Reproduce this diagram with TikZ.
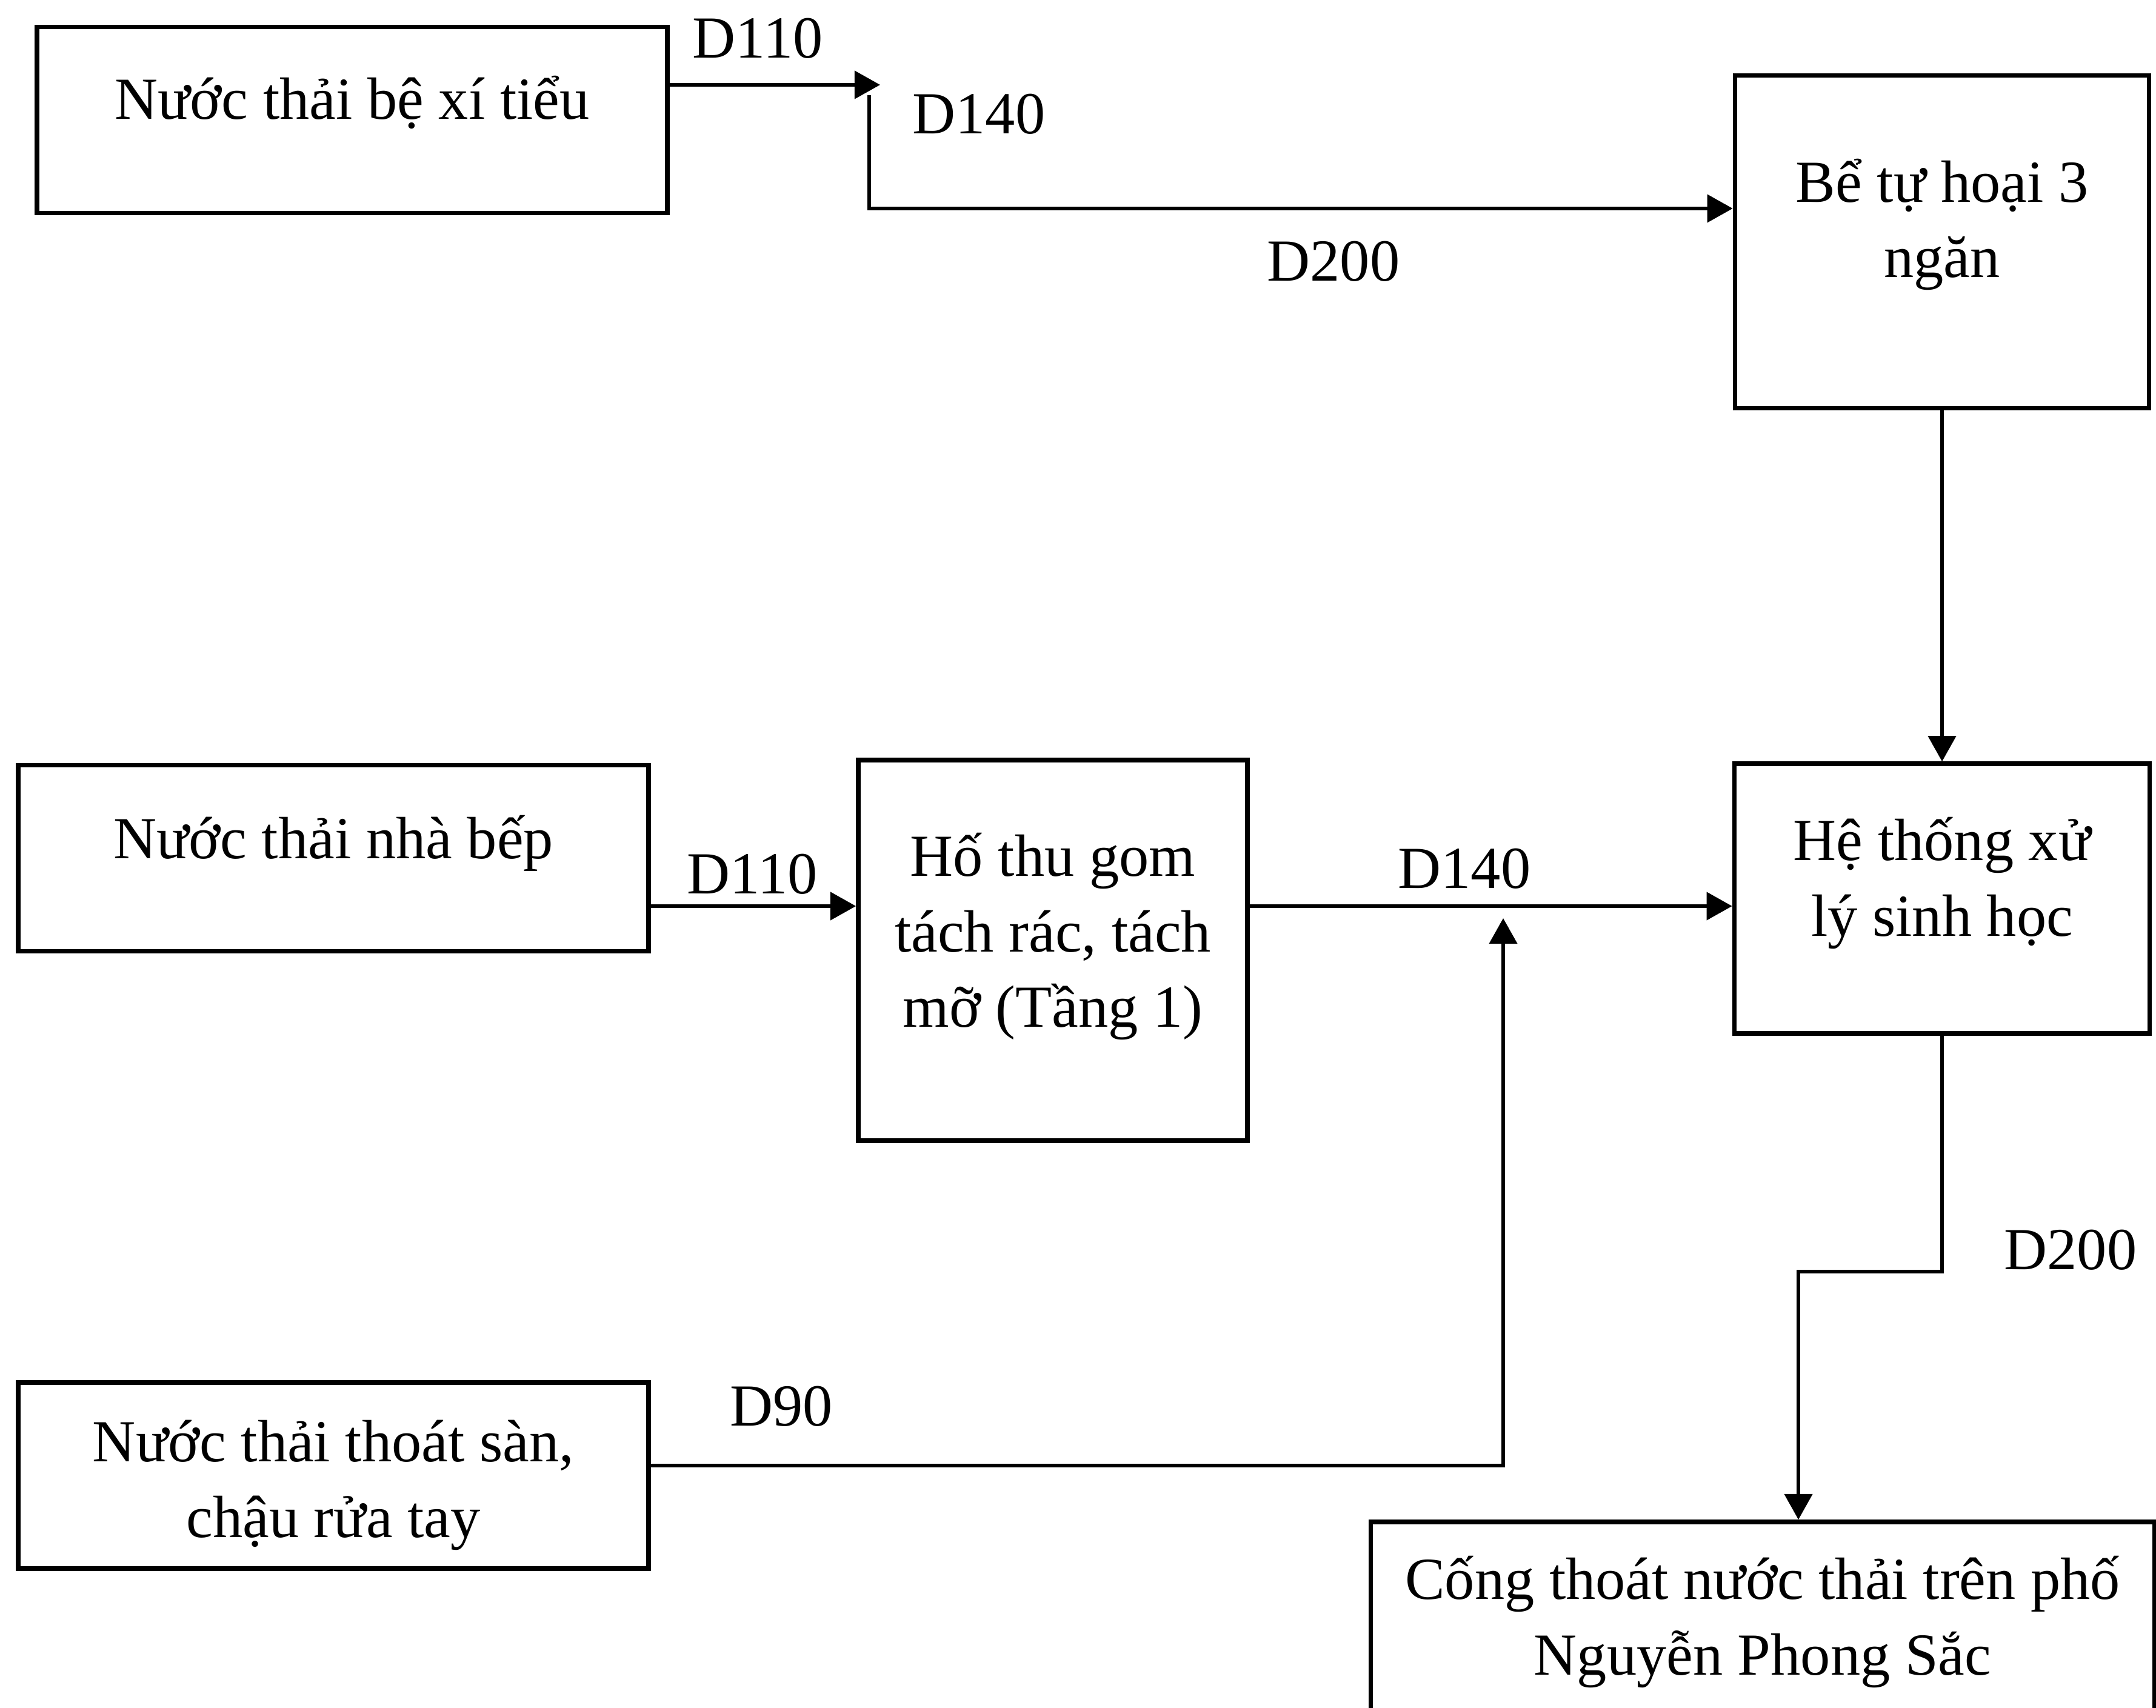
\documentclass[tikz,border=0pt]{standalone}
\usepackage{fontspec}
\setmainfont{Liberation Serif}
\usetikzlibrary{positioning,arrows.meta}
\newcommand\dgfont{\fontsize{28}{35.5}\selectfont}
\tikzset{
  box/.style={draw, line width=2.2pt, align=center, inner sep=0pt, text depth=0.3cm},
  src/.style={box, minimum width=10.4cm, minimum height=3.07cm},
  flow/.style={-{Triangle[length=12pt,width=13pt]}, line width=1.6pt},
  pipe/.style={inner sep=0pt}
}
\begin{document}
\begin{tikzpicture}[font=\dgfont]
  \useasboundingbox (0,0) rectangle (35.57,28.17);
  \clip (0,0) rectangle (35.57,28.17);

  % sources and treatment
  \node[src, text height=0.28cm] (wc) at (5.81,26.19) {Nước thải bệ xí tiểu};
  \node[box, minimum width=6.83cm, minimum height=5.49cm, text height=1.48cm] (septic) at (32.04,24.18) {Bể tự hoại 3\\ngăn};
  \node[box, minimum width=6.85cm, minimum height=4.45cm, text height=1.54cm, below=5.79cm of septic] (bio) {Hệ thống xử\\lý sinh học};
  \node[src, text height=0.32cm] (kitchen) at (5.50,14.01) {Nước thải nhà bếp};
  \node[box, minimum width=6.42cm, minimum height=6.28cm, text height=2.84cm] (trap) at (17.37,12.49) {Hố thu gom\\tách rác, tách\\mỡ (Tầng 1)};
  \node[src, text height=2.34cm, below=7.04cm of kitchen] (floor) {Nước thải thoát sàn,\\chậu rửa tay};
  \node[box, minimum width=12.93cm, minimum height=3.3cm, text height=2.04cm] (sewer) at (29.08,1.41) {Cống thoát nước thải trên phố\\Nguyễn Phong Sắc};

  % pipe runs
  \coordinate (teetop) at (14.52,26.77);
  \coordinate (tee) at (14.34,26.6);
  \coordinate (mid) at (0,13.22);
  \coordinate (riser) at (24.80,13.02);
  \coordinate (drop) at (29.67,7.19);

  \draw[flow] (wc.east |- teetop) -- (teetop);
  \draw[flow] (tee) |- ([yshift=0.55cm]septic.west);
  \draw[flow] (septic.south) -- (bio.north);
  \draw[flow] (kitchen.east |- mid) -- (trap.west |- mid);
  \draw[flow] (trap.east |- mid) -- (bio.west |- mid);
  \draw[flow] ([yshift=0.17cm]floor.east) -| (riser);
  \draw[flow] (bio.south) |- (drop) -- (drop |- sewer.north);

  % pipe sizes
  \node[pipe] (dtopa) at (12.50,27.54) {D110};
  \node[pipe] (dtopb) at (16.15,26.29) {D140};
  \node[pipe] (dtopc) at (22.00,23.86) {D200};
  \node[pipe] (dmida) at (12.41,13.75) {D110};
  \node[pipe] (dmidb) at (24.16,13.84) {D140};
  \node[pipe] (dlow) at (12.89,4.97) {D90};
  \node[pipe] (dout) at (34.16,7.55) {D200};
\end{tikzpicture}
\end{document}
